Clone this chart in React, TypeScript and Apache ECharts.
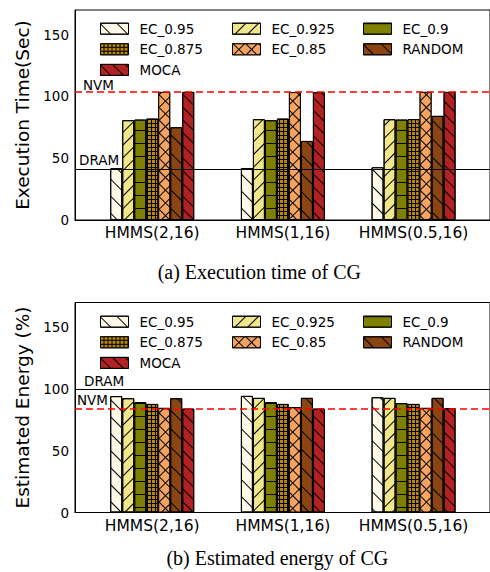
import React, { useEffect, useRef } from 'react';
import * as echarts from 'echarts';

const categories = ['HMMS(2,16)', 'HMMS(1,16)', 'HMMS(0.5,16)'];
const seriesNames = ['EC_0.95', 'EC_0.925', 'EC_0.9', 'EC_0.875', 'EC_0.85', 'RANDOM', 'MOCA'];
const yTicks = [0, 50, 100, 150];

// (a) Execution time (Sec)
const timeEC095 = [41.9, 42.1, 42.7];
const timeEC0925 = [80.8, 81.6, 81.6];
const timeEC09 = [81.3, 80.8, 81.3];
const timeEC0875 = [82.1, 82.1, 81.6];
const timeEC085 = [103.7, 103.5, 103.7];
const timeRandom = [75.1, 64.0, 84.3];
const timeMoca = [103.7, 103.5, 103.7];
const timeNVM = 103.7;
const timeDRAM = 41.3;

// (b) Estimated energy (%)
const energyEC095 = [94.2, 94.4, 93.3];
const energyEC0925 = [92.5, 92.8, 92.8];
const energyEC09 = [89.3, 89.3, 88.5];
const energyEC0875 = [87.9, 87.9, 87.9];
const energyEC085 = [84.7, 85.3, 84.7];
const energyRandom = [92.5, 92.8, 92.8];
const energyMoca = [84.1, 84.1, 84.4];
const energyDRAM = 100;
const energyNVM = 83.7;

const FONT = 'DejaVu Sans';

const lineDecal = (rot: number, gap: number) => ({
  symbol: 'rect', symbolSize: 1, dashArrayX: [1, 0], dashArrayY: [1, gap], rotation: rot, color: '#000',
});
const gridDecal = (color: string, cell: number, rot: number) => ({
  symbol: 'rect', symbolSize: 1, dashArrayX: [cell, 1], dashArrayY: [cell, 1], rotation: rot, color,
});

const BACK = Math.PI / 4;   // "\" hatch
const FWD = -Math.PI / 4;   // "/" hatch

const styles: any[] = [
  { color: '#FFF9E8', decal: lineDecal(BACK, 11) },
  { color: '#F0E68C', decal: lineDecal(FWD, 8) },
  { color: '#808000', decal: lineDecal(0, 12) },
  { color: '#000000', decal: gridDecal('#B8860B', 3, 0) },
  { color: '#000000', decal: gridDecal('#F4A460', 8, Math.PI / 4) },
  { color: '#8B4513', decal: lineDecal(BACK, 12) },
  { color: '#B22222', decal: lineDecal(BACK, 8) },
];

const timeData = [timeEC095, timeEC0925, timeEC09, timeEC0875, timeEC085, timeRandom, timeMoca];
const energyData = [energyEC095, energyEC0925, energyEC09, energyEC0875, energyEC085, energyRandom, energyMoca];

const legendCols = [
  ['EC_0.95', 'EC_0.875', 'MOCA'],
  ['EC_0.925', 'EC_0.85'],
  ['EC_0.9', 'RANDOM'],
];
const legendLefts = [100, 232, 363];

function buildSeries(gridIdx: number, data: number[][], marks: any[]) {
  return seriesNames.map((name, i) => ({
    type: 'bar',
    name,
    xAxisIndex: gridIdx,
    yAxisIndex: gridIdx,
    barWidth: 12,
    barGap: '0%',
    data: data[i].map((v, k) => [k, v]),
    itemStyle: { color: styles[i].color, decal: styles[i].decal, borderColor: '#000', borderWidth: 1 },
    markLine: i === 0 ? {
      silent: true,
      symbol: ['none', 'none'],
      data: marks,
    } : undefined,
  }));
}

function markItem(value: number, text: string, dashed: boolean, pad: number, dist: number) {
  return {
    yAxis: value,
    lineStyle: dashed ? { color: '#ff0000', type: [7, 4], width: 1.5 } : { color: '#000', type: 'solid', width: 1.2 },
    label: {
      show: true, formatter: text, position: 'insideStartTop', color: '#000',
      fontFamily: FONT, fontSize: 13.5, padding: [0, 0, 0, pad], distance: dist,
    },
  };
}

export default function App() {
  const ref = useRef<HTMLDivElement>(null);
  useEffect(() => {
    if (!ref.current) return;
    const chart = echarts.init(ref.current, undefined, { renderer: 'svg' });
    const px = 132.25;
    const zeroX = 153.15;
    const gridLeft = 75;
    const gridW = 420;
    const xMin = -(zeroX - gridLeft) / px;
    const xMax = xMin + gridW / px;
    const grids = [
      { left: gridLeft, top: 10, width: gridW, height: 210 },
      { left: gridLeft, top: 302.5, width: gridW, height: 210 },
    ];
    const xAxes = grids.map((_, g) => ({
      type: 'value', gridIndex: g, min: xMin, max: xMax,
      splitLine: { show: false },
      axisTick: { show: false },
      axisLine: { show: true, onZero: false, lineStyle: { color: '#000', width: 1 } },
      axisLabel: {
        customValues: [0, 1, 2],
        formatter: (v: number) => categories[Math.round(v)] ?? '',
        fontFamily: FONT, fontSize: 15.5, color: '#000', margin: 5,
      },
    }));
    const yAxes = grids.map((_, g) => ({
      type: 'value', gridIndex: g, min: 0, max: 170,
      name: g === 0 ? 'Execution Time(Sec)' : 'Estimated Energy (%)',
      nameLocation: 'middle', nameGap: 33,
      nameTextStyle: { fontFamily: FONT, fontSize: 18.5, color: '#000' },
      splitLine: { show: false },
      axisTick: { show: false },
      axisLine: { show: true, onZero: false, lineStyle: { color: '#000', width: 1 } },
      axisLabel: {
        customValues: yTicks,
        fontFamily: FONT, fontSize: 13.5, color: '#000', margin: 6,
      },
    }));
    const legends: any[] = [];
    [21.2, 314.2].forEach((top) => {
      legendCols.forEach((col, c) => {
        legends.push({
          data: col, orient: 'vertical', left: legendLefts[c], top, padding: 0,
          itemWidth: 28, itemHeight: 11, itemGap: 5.6, icon: 'rect', selectedMode: false,
          itemStyle: { borderColor: '#000', borderWidth: 1 },
          textStyle: { fontFamily: FONT, fontSize: 13.5, color: '#000', lineHeight: 15, padding: [0, 0, 0, 6] },
        });
      });
    });
    const series = [
      ...buildSeries(0, timeData, [
        markItem(timeNVM, 'NVM', true, 8, 0),
        markItem(timeDRAM, 'DRAM', false, 2, 2),
      ]),
      ...buildSeries(1, energyData, [
        markItem(energyDRAM, 'DRAM', false, 8, 1),
        markItem(energyNVM, 'NVM', true, 0, 2),
      ]),
    ];
    chart.setOption({
      animation: false,
      grid: grids.map((g) => ({ ...g, show: true, borderColor: '#000', borderWidth: 1, backgroundColor: 'transparent' })),
      xAxis: xAxes,
      yAxis: yAxes,
      legend: legends,
      series,
      graphic: [
        { type: 'text', x: 259.3, y: 271.7, style: { text: '(a) Execution time of CG', fontFamily: 'Liberation Serif', fontSize: 20, fill: '#000', align: 'center', verticalAlign: 'middle' } },
        { type: 'text', x: 277.3, y: 558, style: { text: '(b) Estimated energy of CG', fontFamily: 'Liberation Serif', fontSize: 20, fill: '#000', align: 'center', verticalAlign: 'middle' } },
      ],
    });
    return () => chart.dispose();
  }, []);
  return <div ref={ref} style={{ position: 'fixed', left: 0, top: 0, width: 490, height: 572, background: '#fff' }} />;
}
